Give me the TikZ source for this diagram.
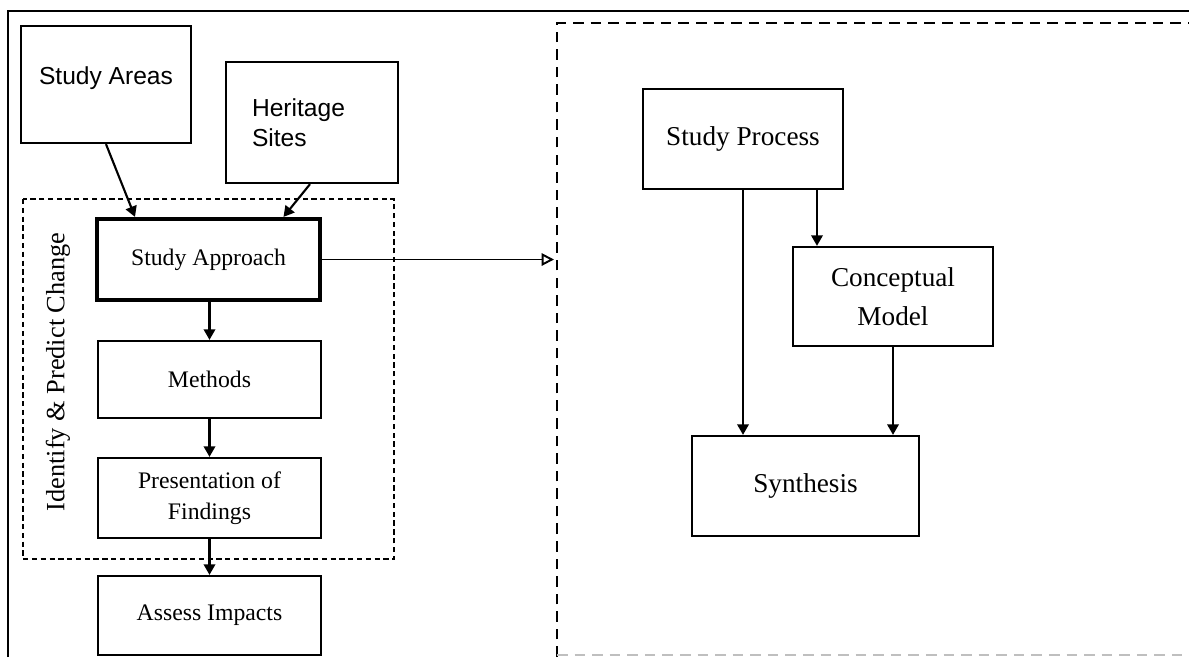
\documentclass[tikz,border=0pt]{standalone}
\usepackage{fontspec}
\setmainfont{Liberation Serif}
\newfontfamily\arialfont{Liberation Sans}
\usetikzlibrary{positioning}
\usetikzlibrary{arrows.meta}
\tikzset{
    box/.style = {rectangle, draw=black, line width=1.3pt, align=center, inner sep=0pt, font=\fontsize{13.5}{17.5}\selectfont},
    boxthick/.style = {box, line width=2.4pt},
    boxr/.style = {box, font=\fontsize{15.5}{22.5}\selectfont},
    boxs/.style = {box, font=\arialfont\fontsize{14}{17}\selectfont},
    edgen/.style = {-{Triangle[width=6.5pt,length=6pt]}, line width=1.2pt},
    edgeo/.style = {-{Triangle[open,width=7pt,length=7pt]}, line width=1.1pt},
    frame/.style = {line width=1.3pt},
    group/.style = {densely dashed, line width=1pt},
    panel/.style = {dash pattern=on 6pt off 4pt, line width=1.2pt},
}
\begin{document}
\begin{tikzpicture}[x=0.02cm,y=-0.02cm]
\useasboundingbox (0,0) rectangle (1189,657);

% frame and groups
\draw[frame] (8,657) |- (1189,11);
\draw[panel] (557,657) |- (1189,23);
\draw[panel, gray!50] (557,655) -- (1189,655);
\draw[group] (23,199) rectangle (394,559);
\node[rotate=90, font=\fontsize{15}{18}\selectfont] at (58,372) (label) {Identify \& Predict Change};

% left column
\node[boxs, minimum width=3.4cm, minimum height=2.34cm] at (106,84.5) (areas) {Study Areas\\[-0.25cm]};
\node[boxs, minimum width=3.44cm, minimum height=2.42cm, text width=2.4cm, align=left] at (312,122.5) (sites) {Heritage\\Sites};
\node[boxthick, minimum width=4.46cm, minimum height=1.62cm] at (208.5,259.5) (approach) {Study Approach};
\node[box, minimum width=4.46cm, minimum height=1.54cm] at (209.5,379.5) (methods) {Methods};
\node[box, minimum width=4.46cm, minimum height=1.6cm] at (209.5,498) (findings) {Presentation of\\Findings};
\node[box, minimum width=4.46cm, minimum height=1.58cm] at (209.5,615.5) (impacts) {Assess Impacts};

% right panel
\node[boxr, minimum width=4cm, minimum height=2cm] at (743,139) (process) {Study Process};
\node[boxr, minimum width=4cm, minimum height=1.98cm] at (893,296.5) (concept) {Conceptual\\Model};
\node[boxr, minimum width=4.54cm, minimum height=2cm] at (805.5,486) (synth) {Synthesis};
\coordinate (entry) at (554,259.5);

\draw[edgen] (areas.south) -- ([xshift=-1.47cm]approach.north);
\draw[edgen] ([xshift=-0.04cm]sites.south) -- ([xshift=1.5cm]approach.north);
\draw[edgen] (approach.south -| methods.north) -- (methods.north);
\draw[edgen] (methods.south) -- (findings.north);
\draw[edgen] (findings.south) -- (impacts.north);
\draw[edgeo] (approach.east) -- (entry);
\draw[edgen] (process.south) -- (process.south |- synth.north);
\draw[edgen] ([xshift=1.48cm]process.south) -- ([xshift=1.48cm]process.south |- concept.north);
\draw[edgen] (concept.south) -- (concept.south |- synth.north);

\end{tikzpicture}
\end{document}
